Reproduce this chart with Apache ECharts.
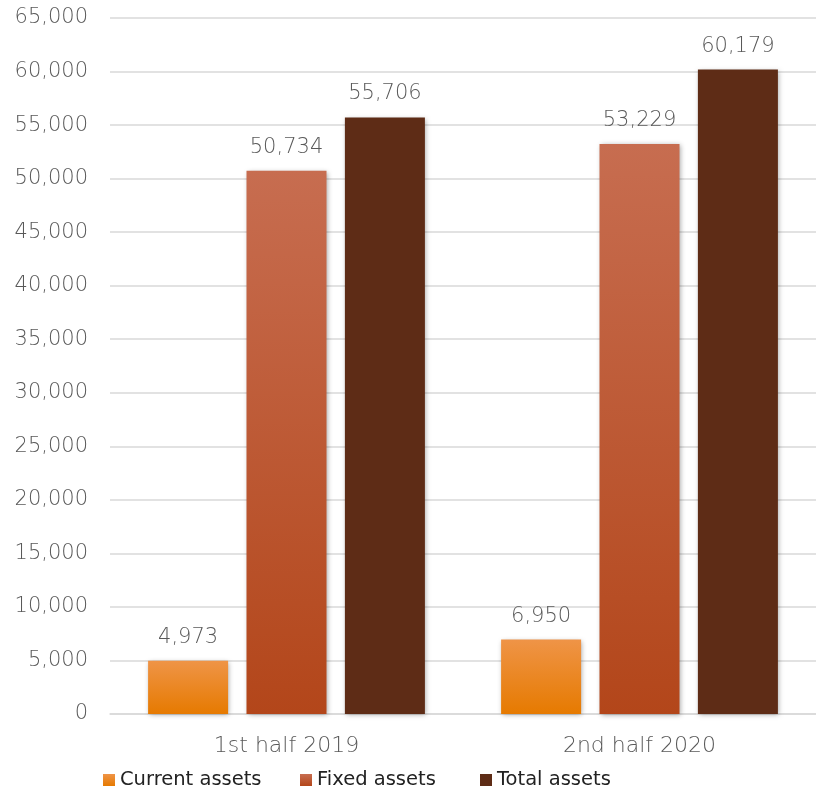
<!DOCTYPE html>
<html><head><meta charset="utf-8">
<script src="https://cdn.jsdelivr.net/npm/echarts@6/dist/echarts.min.js"></script>
<style>html,body{margin:0;padding:0;background:#fff}#c{width:816px;height:796px}</style>
</head><body><div id="c"></div>
<script>
const categories = ['1st half 2019', '2nd half 2020'];
const currentAssets = [4973, 6950];
const fixedAssets = [50734, 53229];
const totalAssets = [55706, 60179];
const seriesNames = ['Current assets', 'Fixed assets', 'Total assets'];

const FONT = 'DejaVu Sans';
const grad = (a, b) => new echarts.graphic.LinearGradient(0, 0, 0, 1, [{offset: 0, color: a}, {offset: 1, color: b}]);
const colors = [grad('#EF9447', '#E67A00'), grad('#C76D50', '#B3461A'), '#5E2C16'];
const iconColors = ['#EE8A2E', '#C2603D', '#5E2C16'];

const shadow = {shadowBlur: 5, shadowColor: 'rgba(0,0,0,0.35)', shadowOffsetX: 1, shadowOffsetY: 1};
const label = {show: true, position: 'top', distance: 13, color: '#595959', fontFamily: FONT, fontSize: 21, fontWeight: 200,
  formatter: p => p.value.toLocaleString('en-US')};

const chart = echarts.init(document.getElementById('c'));
const legendBase = {bottom: 1, itemWidth: 12, itemHeight: 12, icon: 'rect', itemGap: 5,
  textStyle: {color: '#222', fontFamily: FONT, fontSize: 19.5}};
chart.setOption({
  animation: false,
  grid: {left: 110, right: 0, top: 18, bottom: 82},
  legend: [
    Object.assign({}, legendBase, {left: 98, data: [seriesNames[0]]}),
    Object.assign({}, legendBase, {left: 295, data: [seriesNames[1]]}),
    Object.assign({}, legendBase, {left: 475, data: [seriesNames[2]]})
  ],
  xAxis: {type: 'category', data: categories,
    axisLine: {lineStyle: {color: '#d9d9d9', width: 1.5}}, axisTick: {show: false},
    axisLabel: {color: '#595959', fontFamily: FONT, fontSize: 22, fontWeight: 200, margin: 21}},
  yAxis: {type: 'value', min: 0, max: 65000, interval: 5000,
    axisLine: {show: false}, axisTick: {show: false},
    splitLine: {lineStyle: {color: '#d9d9d9', width: 1.5}},
    axisLabel: {color: '#595959', fontFamily: FONT, fontSize: 21, fontWeight: 200, margin: 22,
      formatter: v => v.toLocaleString('en-US')}},
  series: [currentAssets, fixedAssets, totalAssets].map((d, i) => ({
    name: seriesNames[i], type: 'bar', data: d, barWidth: 80, barGap: '23%',
    itemStyle: Object.assign({color: colors[i]}, shadow), label: label,
  })),
  color: iconColors
});
</script></body></html>
